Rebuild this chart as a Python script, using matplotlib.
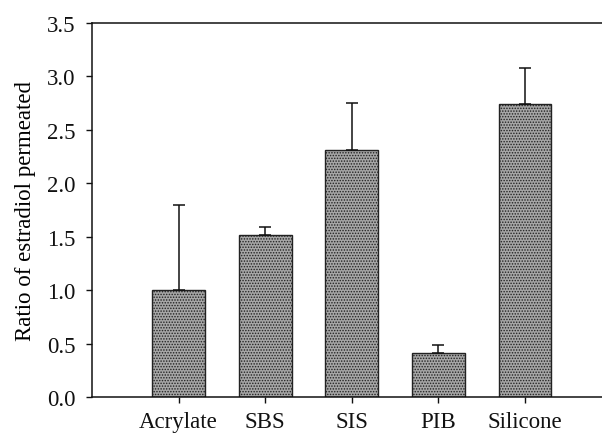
import numpy as np
import matplotlib
matplotlib.use('Agg')
import matplotlib.pyplot as plt

plt.rcParams['font.family'] = ['Liberation Serif', 'DejaVu Serif']
plt.rcParams['hatch.linewidth'] = 0.7

# data
materials = ['Acrylate', 'SBS', 'SIS', 'PIB', 'Silicone']
ratio = [1.00, 1.52, 2.31, 0.41, 2.74]
err_up = [0.80, 0.07, 0.44, 0.08, 0.34]

fig = plt.figure(figsize=(6.02, 4.39), dpi=100)
ax = fig.add_axes([0.1528, 0.0934, 0.8472, 0.852])

x = np.arange(len(materials))
ax.bar(x, ratio, width=0.61, color='#a6a6a6', edgecolor='#222222',
       hatch='......', linewidth=1.0, zorder=2)
ax.errorbar(x, ratio, yerr=[np.zeros(len(err_up)), err_up], fmt='none',
            ecolor='#111111', elinewidth=1.1, capsize=4.5, capthick=1.1, zorder=3)

ax.set_xlim(-1, 4.89)
ax.set_ylim(0, 3.5)
ax.set_yticks(np.arange(0, 3.51, 0.5))
ax.set_yticklabels(['%.1f' % v for v in np.arange(0, 3.51, 0.5)])
ax.set_xticks(x)
ax.set_xticklabels(materials)
ax.tick_params(axis='both', direction='out', length=4, width=1, labelsize=16.5,
               colors='#111111')
ax.tick_params(axis='x', pad=6)
ax.tick_params(axis='y', pad=8)
ax.set_ylabel('Ratio of estradiol permeated', fontsize=16.5, labelpad=8)

ax.spines['right'].set_visible(False)
for s in ['left', 'bottom', 'top']:
    ax.spines[s].set_linewidth(1.1)
    ax.spines[s].set_color('#111111')

fig.savefig('out.png', dpi=100)
